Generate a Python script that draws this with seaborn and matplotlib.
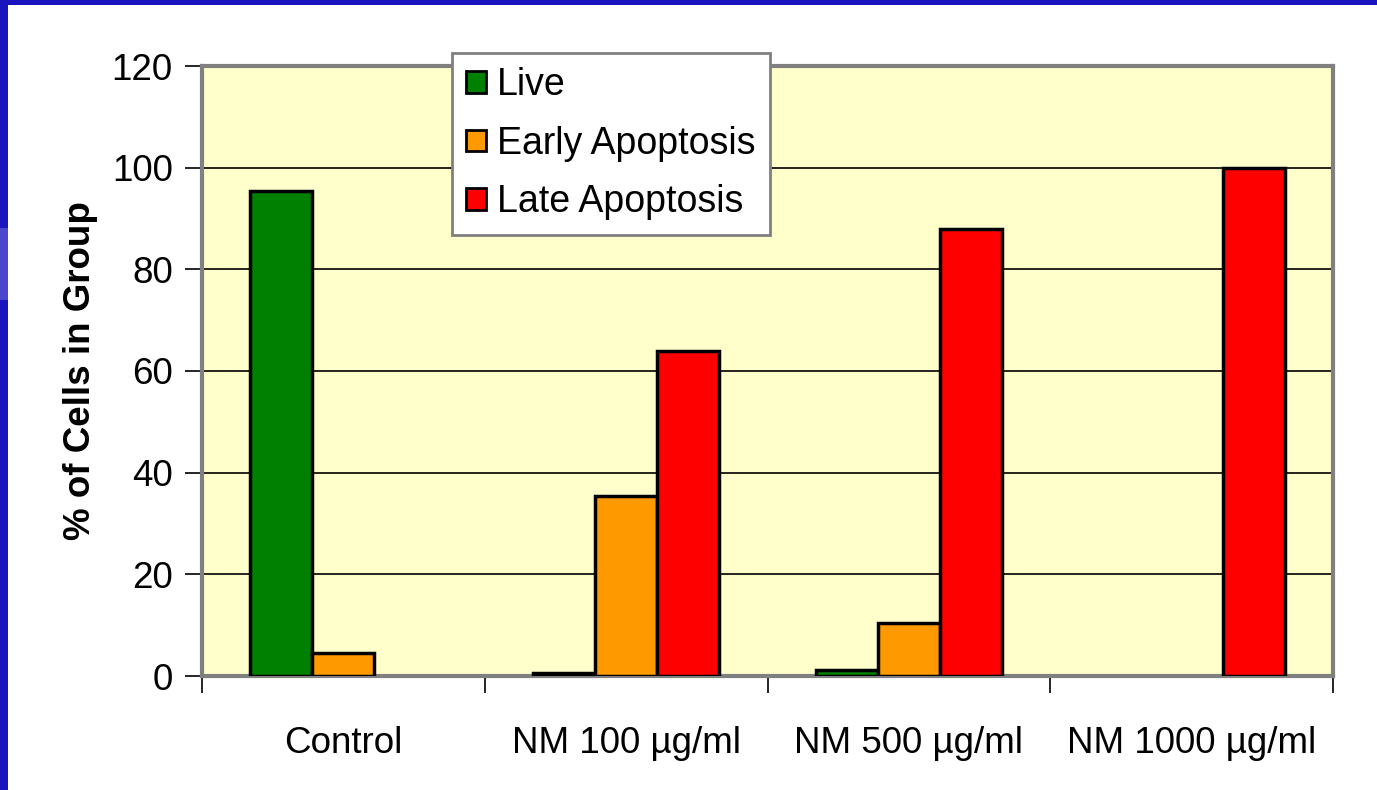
import matplotlib
matplotlib.use("Agg")
import matplotlib.pyplot as plt
import seaborn as sns
import pandas as pd
from matplotlib.patches import Rectangle
from matplotlib.ticker import FixedLocator

groups = ["Control", "NM 100 µg/ml", "NM 500 µg/ml", "NM 1000 µg/ml"]
series = ["Live", "Early Apoptosis", "Late Apoptosis"]
live = [95.5, 0.5, 1.2, 0.0]
early = [4.5, 35.5, 10.5, 0.0]
late = [0.0, 64.0, 88.0, 100.0]
colors = ["#008000", "#FF9900", "#FF0000"]
yticks = [0, 20, 40, 60, 80, 100, 120]

rows = []
for name, vals in zip(series, [live, early, late]):
    for g, v in zip(groups, vals):
        rows.append({"group": g, "type": name, "value": v})
df = pd.DataFrame(rows)

sns.set_theme(style="white")
plt.rcParams["font.family"] = ["Liberation Sans", "DejaVu Sans"]
plt.rcParams["text.color"] = "black"
plt.rcParams["axes.labelcolor"] = "black"
plt.rcParams["xtick.color"] = "black"
plt.rcParams["ytick.color"] = "black"

fig = plt.figure(figsize=(13.77, 7.90), dpi=100)
fig.patch.set_facecolor("white")
# slide border
fig.add_artist(Rectangle((0, 1 - 5 / 790), 1, 5 / 790, transform=fig.transFigure,
                         facecolor="#1A14BE", edgecolor="none", zorder=0))
fig.add_artist(Rectangle((0, 0), 8 / 1377, 1, transform=fig.transFigure,
                         facecolor="#1A14BE", edgecolor="none", zorder=0))
fig.add_artist(Rectangle((0, 1 - 300 / 790), 8 / 1377, 72 / 790, transform=fig.transFigure,
                         facecolor="#4B46CC", edgecolor="none", zorder=1))

ax = fig.add_axes([202 / 1377, 1 - 676 / 790, (1333 - 202) / 1377, (676 - 66) / 790])
ax.set_facecolor("#FFFFCC")

sns.barplot(data=df, x="group", y="value", hue="type", palette=colors,
            width=0.66, edgecolor="black", linewidth=2.5, ax=ax, zorder=3,
            saturation=1, legend=False)

for cont in ax.containers:
    for p in cont:
        if p.get_height() == 0:
            p.set_visible(False)

ax.set_ylim(0, 120)
ax.set_xlim(-0.5, 3.5)
ax.set_yticks(yticks)
ax.yaxis.grid(True, color="black", linewidth=1.2, zorder=0)
ax.set_axisbelow(True)

for s in ax.spines.values():
    s.set_color("#808080")
    s.set_linewidth(3)

ax.tick_params(axis="y", which="major", length=12, width=1.2, color="black",
               labelsize=26.5, pad=9, left=True, direction="out", labelcolor="black")
ax.tick_params(axis="x", which="major", length=0, labelsize=26.5, pad=36, labelcolor="black")
ax.xaxis.set_minor_locator(FixedLocator([-0.5, 0.5, 1.5, 2.5, 3.5]))
ax.tick_params(axis="x", which="minor", length=12, width=1.2, color="black",
               bottom=True, direction="out")

ax.set_xlabel("")
ax.set_ylabel("% of Cells in Group", fontsize=26.5, fontweight="bold", labelpad=10,
              color="black")

handles = [Rectangle((0, 0), 1, 1, facecolor=c, edgecolor="black", linewidth=2)
           for c in colors]
leg = ax.legend(handles, series, loc="upper left",
                bbox_to_anchor=((452 - 202) / 1131, (676 - 53) / 610),
                fontsize=27, frameon=True, fancybox=False, shadow=False,
                handlelength=0.52, handleheight=0.52, handletextpad=0.3,
                labelspacing=0.6, borderpad=0.38, borderaxespad=0)
leg.get_frame().set_edgecolor("#808080")
leg.get_frame().set_linewidth(2)
leg.get_frame().set_facecolor("white")
leg.get_frame().set_alpha(1)
for t in leg.get_texts():
    t.set_color("black")

fig.savefig("out.png", dpi=100)
